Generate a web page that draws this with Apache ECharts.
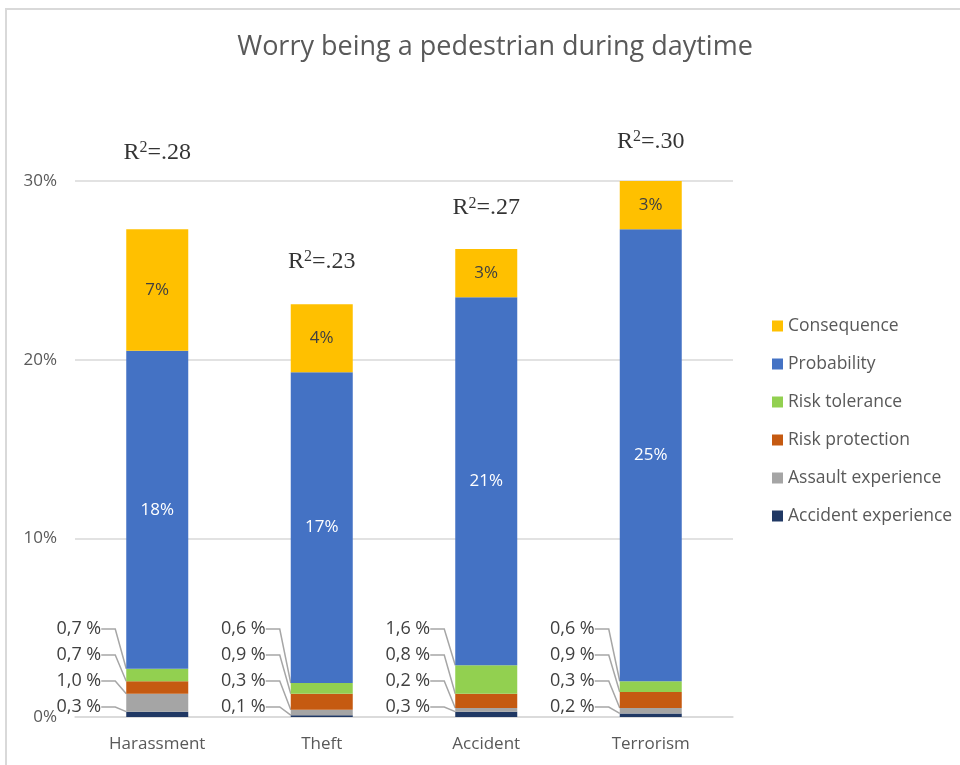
<!DOCTYPE html>
<html>
<head>
<meta charset="utf-8">
<script src="https://cdn.jsdelivr.net/npm/echarts@6/dist/echarts.min.js"></script>
<style>
  html, body { margin: 0; padding: 0; background: #fff; }
  #chart { width: 960px; height: 765px; }
</style>
</head>
<body>
<div id="chart"></div>
<script>
// categories and stacked shares (percent of variance explained)
const categories = ['Harassment', 'Theft', 'Accident', 'Terrorism']
const accidentExperience = [0.3, 0.1, 0.3, 0.2]
const assaultExperience = [1.0, 0.3, 0.2, 0.3]
const riskProtection = [0.7, 0.9, 0.8, 0.9]
const riskTolerance = [0.7, 0.6, 1.6, 0.6]
const probability = [17.8, 17.4, 20.6, 25.3]
const consequence = [6.8, 3.8, 2.7, 2.7]

// R² annotations and where they sit (in axis units)
const rSquared = ['.28', '.23', '.27', '.30']
const rSquaredAnchor = [31.6, 25.5, 28.5, 32.2]

const yTicks = { min: 0, max: 30, interval: 10 }

const textGray = '#595959'
const fontFamily = '"Open Sans", "Noto Sans", sans-serif'

const chart = echarts.init(document.getElementById('chart'))

const zeroY = () => chart.convertToPixel({ yAxisIndex: 0 }, 0)

// small segments get a label on the left, stacked upward with a leader line
const smallSeries = (name, data, color, order) => ({
  name,
  type: 'bar',
  stack: 'total',
  barWidth: 62,
  data,
  itemStyle: { color },
  label: {
    show: true,
    position: 'left',
    color: '#404040',
    fontSize: 18,
    fontFamily,
    formatter: p => p.value.toFixed(1).replace('.', ',') + ' %',
  },
  labelLine: {
    show: true,
    length2: 14,
    lineStyle: { color: '#a6a6a6', width: 1.5 },
  },
  labelLayout: params => ({
    x: params.rect.x - 25,
    y: zeroY() - 10 - order * 26,
    align: 'right',
    verticalAlign: 'middle',
  }),
})

const bigSeries = (name, data, color, labelColor) => ({
  name,
  type: 'bar',
  stack: 'total',
  barWidth: 62,
  data,
  itemStyle: { color },
  label: {
    show: true,
    position: 'inside',
    color: labelColor,
    fontSize: 17,
    fontFamily,
    formatter: p => Math.round(p.value) + '%',
  },
})

const option = {
  backgroundColor: '#fff',
  animation: false,
  title: {
    text: 'Worry being a pedestrian during daytime',
    left: 490,
    textAlign: 'center',
    top: 29,
    textStyle: { color: textGray, fontSize: 27, fontWeight: 'normal', fontFamily },
  },
  graphic: [
    {
      type: 'polyline',
      shape: { points: [[6, 800], [6, 9], [1000, 9]] },
      style: { stroke: '#d9d9d9', lineWidth: 2, fill: null },
      silent: true,
    },
  ],
  legend: {
    data: ['Consequence', 'Probability', 'Risk tolerance', 'Risk protection', 'Assault experience', 'Accident experience'],
    orient: 'vertical',
    left: 767,
    top: 310,
    icon: 'rect',
    itemWidth: 11,
    itemHeight: 11,
    itemGap: 16,
    textStyle: { color: textGray, fontSize: 17.5, fontFamily, lineHeight: 22 },
  },
  grid: { left: 75, right: 227, top: 181, bottom: 48 },
  xAxis: {
    type: 'category',
    data: categories,
    axisLine: { lineStyle: { color: '#d9d9d9', width: 1.5 } },
    axisTick: { show: false },
    axisLabel: { color: textGray, fontSize: 17, fontFamily, margin: 19 },
  },
  yAxis: {
    type: 'value',
    min: yTicks.min,
    max: yTicks.max,
    interval: yTicks.interval,
    axisLine: { show: false },
    axisTick: { show: false },
    axisLabel: { color: textGray, fontSize: 17, fontFamily, margin: 18, formatter: '{value}%' },
    splitLine: { lineStyle: { color: '#d9d9d9', width: 1.5 } },
  },
  series: [
    smallSeries('Accident experience', accidentExperience, '#203864', 0),
    smallSeries('Assault experience', assaultExperience, '#a5a5a5', 1),
    smallSeries('Risk protection', riskProtection, '#c55a11', 2),
    smallSeries('Risk tolerance', riskTolerance, '#92d050', 3),
    bigSeries('Probability', probability, '#4472c4', '#ffffff'),
    bigSeries('Consequence', consequence, '#ffc000', '#404040'),
    {
      name: 'R2',
      type: 'scatter',
      clip: false,
      symbolSize: 1,
      itemStyle: { color: 'rgba(0,0,0,0)' },
      data: rSquaredAnchor,
      label: {
        show: true,
        position: 'inside',
        color: '#000',
        fontSize: 24,
        fontFamily: '"Liberation Serif", "DejaVu Serif", serif',
        formatter: p => 'R{sup|2}=' + rSquared[p.dataIndex],
        rich: {
          sup: {
            fontSize: 16,
            fontFamily: '"Liberation Serif", serif',
            color: '#000',
            verticalAlign: 'top',
            padding: [0, 0, 9, 0],
          },
        },
      },
      silent: true,
    },
  ],
}

chart.setOption(option)
</script>
</body>
</html>
